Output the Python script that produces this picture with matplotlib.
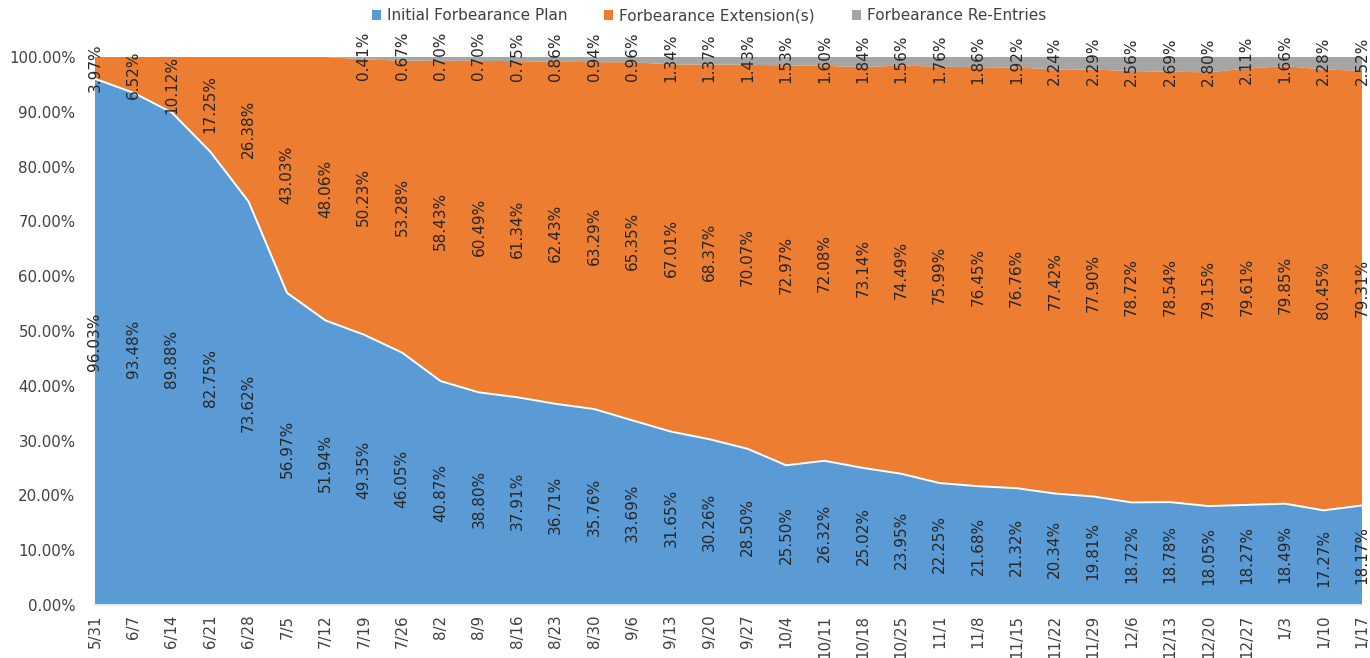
import numpy as np
import matplotlib.pyplot as plt

plt.rcParams["font.family"] = ['DejaVu Sans']

dates = ['5/31', '6/7', '6/14', '6/21', '6/28', '7/5', '7/12', '7/19', '7/26',
         '8/2', '8/9', '8/16', '8/23', '8/30', '9/6', '9/13', '9/20', '9/27',
         '10/4', '10/11', '10/18', '10/25', '11/1', '11/8', '11/15', '11/22',
         '11/29', '12/6', '12/13', '12/20', '12/27', '1/3', '1/10', '1/17']

initial = [96.03, 93.48, 89.88, 82.75, 73.62, 56.97, 51.94, 49.35, 46.05,
           40.87, 38.80, 37.91, 36.71, 35.76, 33.69, 31.65, 30.26, 28.50,
           25.50, 26.32, 25.02, 23.95, 22.25, 21.68, 21.32, 20.34, 19.81,
           18.72, 18.78, 18.05, 18.27, 18.49, 17.27, 18.17]

extension = [3.97, 6.52, 10.12, 17.25, 26.38, 43.03, 48.06, 50.23, 53.28,
             58.43, 60.49, 61.34, 62.43, 63.29, 65.35, 67.01, 68.37, 70.07,
             72.97, 72.08, 73.14, 74.49, 75.99, 76.45, 76.76, 77.42, 77.90,
             78.72, 78.54, 79.15, 79.61, 79.85, 80.45, 79.31]

reentry = [0, 0, 0, 0, 0, 0, 0, 0.41, 0.67, 0.70, 0.70, 0.75, 0.86, 0.94,
           0.96, 1.34, 1.37, 1.43, 1.53, 1.60, 1.84, 1.56, 1.76, 1.86, 1.92,
           2.24, 2.29, 2.56, 2.69, 2.80, 2.11, 1.66, 2.28, 2.52]

names = ['Initial Forbearance Plan', 'Forbearance Extension(s)', 'Forbearance Re-Entries']
colors = ['#5B9BD5', '#ED7D31', '#A5A5A5']

x = np.arange(len(dates))
a = np.array(initial)
b = np.array(extension)
c = np.array(reentry)

fig = plt.figure(figsize=(13.7, 6.58), dpi=100)
ax = fig.add_axes([95 / 1370, 53 / 658, 1267 / 1370, 548 / 658])

ax.stackplot(x, a, b, c, colors=colors, labels=names, linewidth=0)
ax.plot(x, a, color='white', lw=1.4)

ax.set_xlim(0, len(dates) - 1)
ax.set_ylim(0, 100)
ax.set_yticks(np.arange(0, 101, 10))
ax.set_yticklabels(['%.2f%%' % v for v in np.arange(0, 101, 10)])
ax.set_xticks(x)
ax.set_xticklabels(dates, rotation=90)
ax.tick_params(axis='both', length=0, labelsize=10.8, colors='#404040')
ax.tick_params(axis='y', pad=14)
ax.tick_params(axis='x', pad=7)
for s in ['left', 'right', 'top']:
    ax.spines[s].set_visible(False)
ax.spines['bottom'].set_color('#DDEBF7')
ax.spines['bottom'].set_linewidth(1.5)

# data labels
lab_kw = dict(rotation=90, ha='center', va='center', fontsize=11, color='#262626')
for i in range(len(x)):
    ax.text(x[i], a[i] / 2, '%.2f%%' % a[i], clip_on=False, **lab_kw)
    ax.text(x[i], a[i] + b[i] / 2, '%.2f%%' % b[i], clip_on=False, **lab_kw)
    if c[i] > 0:
        ax.text(x[i], a[i] + b[i] + c[i] / 2 + 0.5, '%.2f%%' % c[i], clip_on=False, **lab_kw)

fig.legend(loc='upper center', bbox_to_anchor=(0.5175, 1.008), ncol=3, frameon=False,
           fontsize=11, handlelength=0.6, handleheight=0.6, columnspacing=2.4,
           handletextpad=0.4, labelcolor='#404040')

plt.savefig('out.png', dpi=100)
plt.close()
